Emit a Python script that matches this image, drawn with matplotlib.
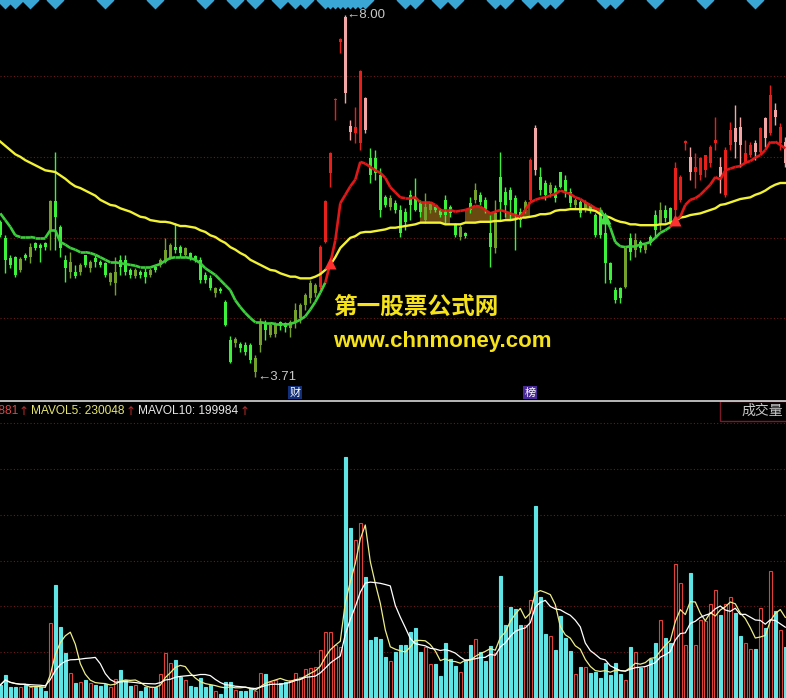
import matplotlib.pyplot as plt
import numpy as np
import pandas as pd
from matplotlib.collections import LineCollection
from matplotlib.patches import Rectangle

# 日K线数据（按柱序）
opens = [5.55, 5.36, 5.12, 5.13, 4.98, 5.16, 5.13, 5.30, 5.28, 5.30,
         5.45, 5.80, 5.49, 5.10, 4.96, 4.96, 4.96, 5.16, 5.00, 5.12,
         5.07, 5.06, 4.84, 4.83, 5.10, 5.10, 4.98, 4.91, 4.96, 4.96,
         4.92, 5.02, 5.04, 5.07, 5.12, 5.25, 5.25, 5.16, 5.18, 5.15,
         5.10, 4.92, 4.88, 4.71, 4.75, 4.60, 4.15, 4.11, 4.10, 4.09,
         4.09, 3.77, 4.09, 4.35, 4.21, 4.22, 4.36, 4.35, 4.29, 4.36,
         4.41, 4.56, 4.65, 4.71, 4.78, 5.31, 6.13, 6.99, 7.68, 7.98,
         6.69, 6.60, 6.48, 7.02, 6.31, 6.31, 6.10, 5.84, 5.73, 5.77,
         5.69, 5.67, 5.87, 5.84, 5.77, 5.57, 5.69, 5.73, 5.70, 5.81,
         5.73, 5.51, 5.37, 5.42, 5.77, 5.81, 5.87, 5.81, 5.42, 5.24,
         6.08, 5.90, 5.93, 5.83, 5.67, 5.69, 5.81, 6.66, 6.08, 6.01,
         5.89, 5.95, 6.14, 6.05, 5.90, 5.75, 5.79, 5.69, 5.74, 5.63,
         5.67, 5.42, 5.06, 4.74, 4.77, 4.78, 5.36, 5.22, 5.31, 5.22,
         5.37, 5.63, 5.51, 5.69, 5.71, 5.69, 5.81, 6.48, 6.32, 6.14,
         6.10, 6.16, 6.25, 6.48, 6.20, 5.87, 6.46, 6.66, 6.67, 6.26,
         6.34, 6.48, 6.38, 6.78, 6.60, 6.87, 6.48, 6.50]
highs = [5.57, 5.39, 5.16, 5.14, 5.13, 5.18, 5.30, 5.31, 5.30, 5.31,
         5.81, 6.38, 5.51, 5.16, 5.19, 5.04, 5.06, 5.16, 5.10, 5.16,
         5.10, 5.07, 4.96, 5.13, 5.16, 5.16, 5.00, 5.00, 4.98, 5.00,
         5.00, 5.04, 5.12, 5.36, 5.30, 5.54, 5.28, 5.25, 5.19, 5.16,
         5.13, 4.96, 4.92, 4.78, 4.78, 4.62, 4.20, 4.19, 4.13, 4.13,
         4.11, 3.97, 4.41, 4.39, 4.36, 4.36, 4.38, 4.36, 4.39, 4.59,
         4.59, 4.71, 4.86, 4.83, 5.28, 5.81, 6.38, 7.02, 7.73, 8.00,
         6.76, 6.91, 7.35, 7.03, 6.42, 6.40, 6.19, 5.87, 5.87, 5.81,
         5.75, 5.71, 5.93, 6.07, 5.81, 5.89, 5.79, 5.74, 5.71, 5.87,
         5.75, 5.54, 5.51, 5.43, 5.84, 6.01, 5.90, 5.84, 5.63, 5.81,
         6.38, 5.96, 5.96, 5.87, 5.71, 5.81, 6.31, 6.70, 6.20, 6.05,
         6.02, 5.99, 6.14, 6.10, 5.95, 5.83, 5.81, 5.81, 5.75, 5.65,
         5.73, 5.57, 5.07, 4.78, 4.78, 5.24, 5.42, 5.42, 5.33, 5.30,
         5.39, 5.69, 5.79, 5.75, 5.73, 6.26, 6.10, 6.52, 6.44, 6.37,
         6.32, 6.34, 6.46, 6.79, 6.32, 6.44, 6.73, 6.93, 6.79, 6.52,
         6.50, 6.52, 6.67, 6.79, 7.17, 6.96, 6.72, 6.56]
lows = [5.37, 4.94, 5.00, 4.90, 4.96, 5.10, 5.06, 5.22, 5.07, 5.22,
        5.22, 5.22, 5.13, 4.84, 4.88, 4.88, 4.92, 5.01, 4.96, 5.01,
        5.01, 4.90, 4.80, 4.68, 4.92, 4.92, 4.88, 4.88, 4.88, 4.83,
        4.90, 4.96, 5.01, 5.06, 5.11, 5.18, 5.13, 5.13, 5.10, 5.07,
        4.83, 4.83, 4.74, 4.66, 4.71, 4.32, 3.88, 4.07, 4.01, 3.97,
        3.88, 3.71, 4.01, 4.15, 4.19, 4.19, 4.27, 4.24, 4.19, 4.29,
        4.35, 4.51, 4.59, 4.66, 4.75, 5.30, 5.96, 6.76, 7.55, 6.96,
        6.52, 6.48, 6.40, 6.60, 6.01, 6.05, 5.61, 5.73, 5.69, 5.65,
        5.37, 5.45, 5.57, 5.68, 5.61, 5.54, 5.65, 5.67, 5.61, 5.54,
        5.61, 5.37, 5.33, 5.36, 5.65, 5.77, 5.75, 5.65, 5.01, 5.18,
        5.57, 5.61, 5.57, 5.22, 5.49, 5.65, 5.79, 6.10, 5.87, 5.81,
        5.84, 5.79, 5.95, 5.84, 5.73, 5.71, 5.61, 5.67, 5.65, 5.37,
        5.36, 4.83, 4.83, 4.59, 4.59, 4.77, 5.10, 5.13, 5.19, 5.18,
        5.28, 5.36, 5.45, 5.55, 5.51, 5.63, 5.79, 6.40, 6.05, 5.95,
        6.05, 6.08, 6.20, 6.40, 5.89, 5.84, 6.40, 6.31, 6.20, 6.25,
        6.32, 6.28, 6.37, 6.44, 6.58, 6.70, 6.40, 6.20]
closes = [5.39, 5.10, 5.04, 4.92, 5.11, 5.12, 5.25, 5.24, 5.24, 5.25,
          5.80, 5.61, 5.24, 5.00, 5.07, 4.91, 5.04, 5.04, 5.07, 5.07,
          5.04, 4.92, 4.94, 4.96, 5.01, 4.96, 4.92, 4.98, 4.92, 4.90,
          4.98, 4.98, 5.10, 5.22, 5.28, 5.22, 5.18, 5.24, 5.12, 5.10,
          4.86, 4.86, 4.77, 4.77, 4.73, 4.33, 3.89, 4.16, 4.06, 4.01,
          3.91, 3.94, 4.36, 4.27, 4.33, 4.34, 4.32, 4.30, 4.36, 4.51,
          4.56, 4.68, 4.83, 4.80, 5.25, 5.80, 6.37, 7.01, 7.72, 7.08,
          6.61, 6.67, 7.34, 6.64, 6.10, 6.13, 5.69, 5.75, 5.83, 5.69,
          5.42, 5.55, 5.75, 5.69, 5.67, 5.73, 5.76, 5.69, 5.63, 5.63,
          5.65, 5.39, 5.49, 5.38, 5.69, 5.93, 5.79, 5.69, 5.25, 5.65,
          5.79, 5.75, 5.81, 5.63, 5.57, 5.79, 6.28, 6.16, 5.93, 5.87,
          5.99, 5.83, 5.96, 5.90, 5.77, 5.81, 5.65, 5.79, 5.68, 5.39,
          5.39, 5.06, 4.86, 4.62, 4.65, 5.24, 5.19, 5.33, 5.24, 5.28,
          5.30, 5.45, 5.69, 5.60, 5.53, 6.19, 6.08, 6.51, 6.14, 6.20,
          6.31, 6.34, 6.44, 6.52, 6.08, 6.40, 6.64, 6.50, 6.46, 6.37,
          6.46, 6.38, 6.66, 6.54, 7.05, 6.79, 6.67, 6.25]

# 短期均线（绿/红）与长期均线（黄）
ma_short = [5.65, 5.57, 5.49, 5.39, 5.37, 5.37, 5.37, 5.36, 5.36, 5.36,
            5.45, 5.45, 5.31, 5.28, 5.24, 5.22, 5.19, 5.19, 5.18, 5.16,
            5.13, 5.10, 5.07, 5.07, 5.06, 5.05, 5.04, 5.03, 5.01, 5.01,
            5.01, 5.03, 5.05, 5.09, 5.12, 5.13, 5.13, 5.13, 5.12, 5.10,
            5.06, 5.00, 4.96, 4.92, 4.86, 4.80, 4.74, 4.62, 4.54, 4.47,
            4.41, 4.36, 4.36, 4.35, 4.35, 4.34, 4.34, 4.33, 4.34, 4.36,
            4.39, 4.43, 4.51, 4.60, 4.71, 4.83, 5.06, 5.33, 5.77, 5.87,
            5.97, 6.05, 6.26, 6.24, 6.20, 6.16, 6.13, 6.07, 5.96, 5.90,
            5.84, 5.83, 5.83, 5.84, 5.78, 5.78, 5.78, 5.75, 5.69, 5.69,
            5.69, 5.67, 5.68, 5.69, 5.71, 5.74, 5.73, 5.69, 5.65, 5.67,
            5.69, 5.67, 5.65, 5.63, 5.61, 5.69, 5.78, 5.81, 5.83, 5.84,
            5.86, 5.88, 5.92, 5.90, 5.88, 5.84, 5.82, 5.78, 5.75, 5.71,
            5.69, 5.60, 5.48, 5.31, 5.26, 5.25, 5.26, 5.26, 5.28, 5.29,
            5.31, 5.36, 5.42, 5.45, 5.49, 5.57, 5.61, 5.75, 5.81, 5.83,
            5.87, 5.93, 5.99, 6.08, 6.05, 6.16, 6.18, 6.20, 6.21, 6.25,
            6.27, 6.31, 6.34, 6.40, 6.50, 6.50, 6.46, 6.42]
ma_long = [6.50, 6.45, 6.40, 6.35, 6.32, 6.28, 6.25, 6.22, 6.19, 6.16,
           6.15, 6.14, 6.10, 6.06, 6.01, 5.97, 5.95, 5.92, 5.89, 5.86,
           5.81, 5.78, 5.75, 5.74, 5.71, 5.69, 5.67, 5.64, 5.61, 5.60,
           5.57, 5.56, 5.55, 5.55, 5.54, 5.52, 5.50, 5.50, 5.49, 5.48,
           5.45, 5.43, 5.39, 5.37, 5.33, 5.30, 5.25, 5.22, 5.18, 5.15,
           5.10, 5.07, 5.04, 5.01, 4.98, 4.97, 4.94, 4.92, 4.90, 4.90,
           4.88, 4.88, 4.88, 4.90, 4.93, 4.98, 5.04, 5.13, 5.24, 5.30,
           5.36, 5.38, 5.42, 5.43, 5.43, 5.44, 5.45, 5.46, 5.48, 5.48,
           5.49, 5.50, 5.51, 5.52, 5.54, 5.54, 5.54, 5.54, 5.54, 5.52,
           5.52, 5.52, 5.52, 5.54, 5.54, 5.54, 5.55, 5.55, 5.55, 5.56,
           5.56, 5.57, 5.57, 5.58, 5.60, 5.60, 5.61, 5.62, 5.64, 5.64,
           5.65, 5.68, 5.69, 5.69, 5.70, 5.70, 5.70, 5.70, 5.69, 5.68,
           5.64, 5.62, 5.60, 5.57, 5.55, 5.54, 5.52, 5.52, 5.51, 5.51,
           5.51, 5.51, 5.52, 5.52, 5.54, 5.56, 5.60, 5.61, 5.63, 5.64,
           5.65, 5.67, 5.69, 5.71, 5.75, 5.76, 5.78, 5.80, 5.82, 5.83,
           5.84, 5.87, 5.89, 5.92, 5.96, 5.99, 6.01, 6.01]

# 成交量
volume = [36900, 65300, 31200, 31200, 31200, 36900, 31200, 31200, 31200, 19900,
          213000, 320900, 201600, 127800, 71000, 42600, 45400, 51100, 42600, 36900,
          34100, 39800, 31200, 54000, 79500, 51100, 34100, 36900, 19900, 31200,
          31200, 31200, 68200, 127800, 99400, 107900, 59600, 51100, 34100, 31200,
          56800, 31200, 36900, 19900, 11400, 45400, 45400, 22700, 19900, 19900,
          28400, 19900, 71000, 68200, 45400, 51100, 42600, 45400, 51100, 71000,
          59600, 82400, 85200, 88000, 136300, 187400, 187400, 150500, 144800, 684400,
          482800, 448700, 497000, 343600, 164700, 173200, 167600, 116400, 105100, 130600,
          150500, 150500, 187400, 198800, 130600, 144800, 96600, 96600, 62500, 156200,
          110800, 90900, 73800, 107900, 150500, 167600, 130600, 105100, 147700, 127800,
          346500, 207300, 258400, 252800, 207300, 207300, 278300, 545300, 286800, 181800,
          176100, 136300, 232900, 170400, 133500, 68200, 88000, 88000, 71000, 73800,
          56800, 99400, 65300, 99400, 68200, 51100, 144800, 130600, 85200, 90900,
          110800, 156200, 221500, 170400, 156200, 380600, 326600, 150500, 355000, 150500,
          221500, 218700, 267000, 306700, 235700, 267000, 286800, 241400, 176100, 156200,
          139200, 139200, 255600, 198800, 360700, 247100, 193100, 144881]

# 信号（顶部菱形）、强势区间、事件标记
signal_bars = [1, 3, 6, 11, 21, 31, 41, 47, 51, 56, 59, 61,
               65, 66, 67, 68, 69, 70, 71, 72, 73,
               81, 83, 88, 91, 99, 101, 106, 109, 111, 121, 123, 131, 141, 151]
strong_runs = [(64, 73), (106, 107), (135, 157)]
glow_runs = [(84, 90), (93, 99), (101, 106), (117, 121)]
event_bars = [59, 106]
event_labels = ['财', '榜']
event_colors = ['#12307a', '#4a2a9a']
header_texts = ['VOLUME: 144881', 'MAVOL5: 230048', 'MAVOL10: 199984']
header_colors = ['#d84848', '#e6e66e', '#e8e8e8']

plt.rcParams['font.family'] = ['Liberation Sans', 'DejaVu Sans', 'Noto Sans CJK SC']

o = np.array(opens); h = np.array(highs); l = np.array(lows); c = np.array(closes)
ms = np.array(ma_short); ml = np.array(ma_long); v = np.array(volume, dtype=float)
x = np.arange(len(c))
n = len(c)

strong = np.zeros(n, dtype=bool)
for a, b in strong_runs:
    strong[a:b + 1] = True
up = c >= o
candle_col = np.where(strong, np.where(up, '#e8201c', '#f2a6a6'),
                      np.where(up, '#76a02c', '#3cf03c'))

W, H = 786, 698
fig = plt.figure(figsize=(W / 100, H / 100), dpi=100, facecolor='black')
ax = fig.add_axes([0, 1 - 400 / H, 1, 400 / H], facecolor='black')
ax2 = fig.add_axes([0, 0, 1, 298 / H], facecolor='black')

xlim = (-0.06, 157.14)
ptop, pbot = 8.178, 8.178 - 400 * 0.011848
for a in (ax, ax2):
    a.set_xlim(*xlim)
    a.set_xticks([]); a.set_yticks([])
    for s in a.spines.values():
        s.set_visible(False)
ax.set_ylim(pbot, ptop)

# 网格
for g in [7.28, 6.32, 5.36, 4.41]:
    ax.axhline(g, color='#6e1818', lw=0.8, ls=(0, (1, 2)), zorder=0)

# 均线之间的半透明色块
for a, b in glow_runs:
    xs = x[a:b + 1]
    ax.fill_between(xs, ms[a:b + 1], ml[a:b + 1], step='mid', color='#b07a1a',
                    alpha=0.6, lw=0, zorder=1)

# K线
ax.vlines(x, l, h, colors=candle_col, lw=1, zorder=2)
body_h = np.maximum(np.abs(c - o), 0.012)
ax.bar(x, body_h, bottom=np.minimum(o, c), width=0.66, color=candle_col,
       linewidth=0, zorder=3)

# 均线
ax.plot(x, ml, color='#f2f235', lw=1.7, zorder=4)
state = ms > ml
segs = [[(x[i], ms[i]), (x[i + 1], ms[i + 1])] for i in range(n - 1)]
seg_cols = ['#e01818' if state[i + 1] else '#3ccf3c' for i in range(n - 1)]
ax.add_collection(LineCollection(segs, colors=seg_cols, linewidths=1.9, zorder=5))
for i in range(1, n):
    if state[i] != state[i - 1]:
        ax.plot(x[i], ms[i], marker='^', ms=8, color='#ff3030' if state[i] else '#44e044',
                mec='none', zorder=6)

# 顶部信号
ax.plot(signal_bars, [ptop] * len(signal_bars), 'D', ms=9, color='#3aa6d6',
        mec='none', clip_on=True, zorder=6)

# 最高/最低价标注
imax, imin = int(np.argmax(h)), int(np.argmin(l))
ax.text(imax + 0.15, h[imax], '←%.2f' % h[imax], color='#c8c8c8', fontsize=9.5,
        va='center', ha='left', zorder=7)
ax.text(imin + 0.3, l[imin], '←%.2f' % l[imin], color='#c8c8c8', fontsize=9.5,
        va='center', ha='left', zorder=7)

for i, lab, col in zip(event_bars, event_labels, event_colors):
    ax.text(i, 0.018, lab, transform=ax.get_xaxis_transform(), ha='center', va='center',
            color='white', fontsize=8, family=['Noto Sans CJK SC'],
            bbox=dict(boxstyle='square,pad=0.12', fc=col, ec='none'), zorder=7)

# 水印
ax.text(333 / W, 1 - 307 / 400, '第一股票公式网', transform=ax.transAxes, color='#f5e21a',
        fontsize=17, fontweight='bold', family=['Noto Sans CJK SC'], va='center', zorder=8)
ax.text(333 / W, 1 - 342 / 400, 'www.chnmoney.com', transform=ax.transAxes, color='#f5e21a',
        fontsize=16, fontweight='bold', va='center', zorder=8)

# 成交量
vtop = 298 * 2840
ax2.set_ylim(0, vtop)
for k in range(1, 7):
    ax2.axhline(130000 * k, color='#6e1818', lw=0.8, ls=(0, (1, 2)), zorder=0)
ax2.bar(x, v, width=0.68, color=np.where(up, 'black', '#5ee4e4'),
        edgecolor=np.where(up, '#e0403a', '#5ee4e4'), linewidth=0.8, zorder=2)
vs = pd.Series(v)
ax2.plot(x, vs.rolling(5, min_periods=1).mean(), color='#ecec8a', lw=0.9, zorder=3)
ax2.plot(x, vs.rolling(10, min_periods=1).mean(), color='white', lw=0.9, zorder=3)

# 分隔线与标题栏
fig.add_artist(plt.Line2D([0, 1], [1 - 400.5 / H] * 2, color='#d8d8d8', lw=1.2))
fig.add_artist(Rectangle((720 / W, 1 - 421 / H), 70 / W, 20 / H, transform=fig.transFigure,
                         fill=False, ec='#7a1a2a', lw=1))
fig.text(783 / W, 1 - 411 / H, '成交量', color='#c8c8c8', fontsize=10,
         family=['Noto Sans CJK SC'], ha='right', va='center')

hy = 1 - 411 / H
renderer = fig.canvas.get_renderer()
xpos = 18
for k in range(3):
    if k == 0:
        fig.text(xpos / W, hy, header_texts[0], color=header_colors[0], fontsize=8.6,
                 ha='right', va='center')
    else:
        t = fig.text(xpos / W, hy, header_texts[k], color=header_colors[k], fontsize=8.6,
                     va='center')
        xpos = t.get_window_extent(renderer).x1
    a = fig.text((xpos + 0.5) / W, hy, '↑', color='#b82a2a', fontsize=8.6,
                 family=['DejaVu Sans'], va='center')
    xpos = a.get_window_extent(renderer).x1 + 3

fig.savefig('out.png', dpi=100, facecolor='black')
